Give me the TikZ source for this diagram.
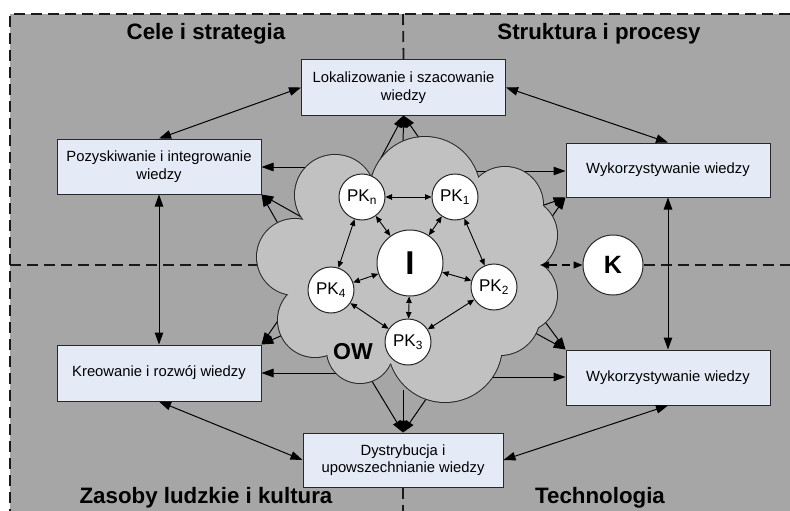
\documentclass[tikz,border=0pt]{standalone}
\usepackage{fontspec}
\setmainfont{Liberation Sans}
\usetikzlibrary{arrows.meta}
\definecolor{bggray}{RGB}{166,166,166}
\definecolor{cloudgray}{RGB}{193,193,193}
\definecolor{boxfill}{RGB}{228,234,246}
\definecolor{edge}{RGB}{40,40,40}
\tikzset{
  bigarr/.style={line width=1pt, draw=black, -{Triangle[length=12pt,width=8.5pt]}},
  bibig/.style={line width=1pt, draw=black, {Triangle[length=12pt,width=8.5pt]}-{Triangle[length=12pt,width=8.5pt]}},
  smallbi/.style={line width=0.9pt, draw=black, {Triangle[length=6.5pt,width=5.5pt]}-{Triangle[length=6.5pt,width=5.5pt]}},
  kbi/.style={line width=1.3pt, draw=black, dash pattern=on 8pt off 5pt, {Triangle[length=9pt,width=7pt]}-{Triangle[length=9pt,width=7pt]}},
  box/.style={draw=edge, fill=boxfill, line width=1pt, align=center, inner sep=0pt,
    font=\fontsize{14.8}{17.5}\selectfont, minimum width=204pt, minimum height=55pt},
  pk/.style={circle, draw=edge, fill=white, line width=1pt, minimum size=46pt, inner sep=0pt,
    font=\fontsize{17}{19}\selectfont},
  bigcirc/.style={circle, draw=edge, fill=white, line width=1pt, inner sep=0pt},
  region/.style={anchor=base, font=\fontsize{22.3}{25}\selectfont\bfseries},
  divline/.style={line width=1.8pt, draw=black!90, dash pattern=on 11pt off 6pt},
  puffline/.style={draw=edge, line width=2pt},
}
\begin{document}
\begin{tikzpicture}[x=1pt,y=-1pt]
\useasboundingbox (0,0) rectangle (790,511);
\fill[white] (0,0) rectangle (790,511);
\fill[bggray] (10,14) rectangle (790,511);
% frame
\draw[divline] (790,14) -- (10,14) -- (10,511);

% boxes (positions)
\node[box] (lok) at (403.5,87.5) {Lokalizowanie i szacowanie\\wiedzy};
\node[box] (poz) at (159,166.5) {Pozyskiwanie i integrowanie\\wiedzy};
\node[box, minimum height=54pt] (wyk1) at (668,170) {Wykorzystywanie wiedzy};
\node[box, minimum height=56pt] (kre) at (159,373) {Kreowanie i rozwój wiedzy};
\node[box] (wyk2) at (668,377.5) {Wykorzystywanie wiedzy};
\node[box, minimum width=200pt, minimum height=54pt] (dys) at (403,460) {Dystrybucja i\\upowszechnianie wiedzy};

% K node
\node[bigcirc, minimum size=60pt, font=\fontsize{25}{25}\selectfont\bfseries] (k) at (613,265) {K};

% divider lines
\draw[divline] (403,14) -- (lok.north);
\draw[divline] (dys.south) -- (403,511);
\draw[divline] (10,265) -- (300,265);
\draw[divline] (k.east) -- (790,265);

% box to box arrows
\draw[bibig] (lok.west) -- (poz.north);
\draw[bibig] (lok.east) -- (wyk1.north);
\draw[bibig] (poz.south) -- (kre.north);
\draw[bibig] (wyk1.south) -- (wyk2.north);
\draw[bibig] (kre.south) -- (dys.west);
\draw[bibig] (wyk2.south) -- (dys.east);

% start points inside the cloud
\coordinate (l1) at (372,175);
\coordinate (l2) at (403,150);
\coordinate (l3) at (424,145);
\coordinate (p0) at (330,167);
\coordinate (p1) at (280,227);
\coordinate (p2) at (312,223);
\coordinate (w0) at (470,171);
\coordinate (w1) at (527,211);
\coordinate (w2) at (544,228);
\coordinate (v0) at (470,377);
\coordinate (v1) at (526,328);
\coordinate (v2) at (540,315);
\coordinate (r0) at (345,373);
\coordinate (r1) at (284,312);
\coordinate (r2) at (294,330);
\coordinate (d1) at (367,373);
\coordinate (d2) at (403,390);
\coordinate (d3) at (431,392);

% cloud to box arrows
\draw[bigarr] (l1) -- (lok.south);
\draw[bigarr] (l2) -- (lok.south);
\draw[bigarr] (l3) -- (lok.south);
\draw[bigarr] (p0) -- (p0 -| poz.east);
\draw[bigarr] (p1) -- (poz.south east);
\draw[bigarr] (p2) -- (poz.south east);
\draw[bigarr] (w0) -- (w0 -| wyk1.west);
\draw[bigarr] (w1) -- (wyk1.south west);
\draw[bigarr] (w2) -- (wyk1.south west);
\draw[bigarr] (v0) -- (v0 -| wyk2.west);
\draw[bigarr] (v1) -- (wyk2.north west);
\draw[bigarr] (v2) -- (wyk2.north west);
\draw[bigarr] (r0) -- (r0 -| kre.east);
\draw[bigarr] (r1) -- (kre.north east);
\draw[bigarr] (r2) -- (kre.north east);
\draw[bigarr] (d1) -- (dys.north);
\draw[bigarr] (d2) -- (dys.north);
\draw[bigarr] (d3) -- (dys.north);

% cloud: outline pass
\foreach \cx/\cy/\r in {425/192/55, 335/195/40, 295/257/38, 315/320/37, 360/350/33,
                        445/345/57, 500/315/40, 520/295/37, 520/235/37, 505/205/38}
  \draw[puffline, fill=cloudgray] (\cx,\cy) circle[radius=\r];
% cloud: fill pass
\foreach \cx/\cy/\r in {425/192/55, 335/195/40, 295/257/38, 315/320/37, 360/350/33,
                        445/345/57, 500/315/40, 520/295/37, 520/235/37, 505/205/38}
  \fill[cloudgray] (\cx,\cy) circle[radius=\r];
\fill[cloudgray] (410,270) ellipse[x radius=110, y radius=95];

% OW label
\node[font=\fontsize{23}{23}\selectfont\bfseries] (ow) at (353,352) {OW};

% inner circles
\node[bigcirc, minimum size=66pt, font=\fontsize{33}{33}\selectfont\bfseries] (i) at (410,263) {I};
\node[pk] (pkn) at (362,197) {PK\textsubscript{n}};
\node[pk] (pk1) at (455,197) {PK\textsubscript{1}};
\node[pk] (pk4) at (331,290) {PK\textsubscript{4}};
\node[pk] (pk2) at (494,287) {PK\textsubscript{2}};
\node[pk] (pk3) at (408,342) {PK\textsubscript{3}};

% inner arrows
\draw[smallbi] (pkn) -- (pk1);
\draw[smallbi] (pkn) -- (i);
\draw[smallbi] (pk1) -- (i);
\draw[smallbi] (pkn) -- (pk4);
\draw[smallbi] (pk1) -- (pk2);
\draw[smallbi] (i) -- (pk4);
\draw[smallbi] (i) -- (pk2);
\draw[smallbi] (i) -- (pk3);
\draw[smallbi] (pk4) -- (pk3);
\draw[smallbi] (pk2) -- (pk3);

% cloud to K
\coordinate (kc) at (540,265);
\draw[kbi] (kc) -- (k.west);

% region labels
\node[region] (cele) at (206,40) {Cele i strategia};
\node[region] (struk) at (599,40) {Struktura i procesy};
\node[region] (zas) at (206,503) {Zasoby ludzkie i kultura};
\node[region] (tech) at (600,503) {Technologia};
\end{tikzpicture}
\end{document}
